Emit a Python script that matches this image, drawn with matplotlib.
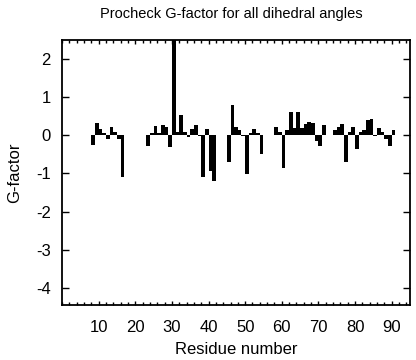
import matplotlib
matplotlib.use("Agg")
import matplotlib.pyplot as plt
from matplotlib.ticker import MultipleLocator

plt.rcParams['font.family'] = ['Liberation Sans', 'DejaVu Sans']
plt.rcParams['axes.unicode_minus'] = False

residues = [9, 10, 11, 12, 13, 14, 15, 16, 17,
            24, 25, 26, 27, 28, 29, 30, 31, 32, 33, 34, 35, 36, 37, 38, 39, 40, 41, 42,
            46, 47, 48, 49, 50, 51, 52, 53, 54, 55,
            59, 60, 61, 62, 63, 64, 65, 66, 67, 68, 69, 70, 71, 72,
            75, 76, 77, 78, 79, 80, 81, 82, 83, 84, 85, 86, 87, 88, 89, 90, 91]
gfactor = [-0.25, 0.33, 0.17, 0.07, -0.10, 0.21, 0.10, -0.10, -1.08,
           -0.29, 0.07, 0.25, 0.05, 0.28, 0.21, -0.30, 3.0, 0.10, 0.52, 0.10, -0.04, 0.17, 0.26, -0.02, -1.10, 0.17, -0.93, -1.20,
           -0.70, 0.79, 0.22, 0.15, -0.03, -1.02, 0.07, 0.17, 0.06, -0.50,
           0.22, 0.08, -0.87, 0.15, 0.60, 0.20, 0.60, 0.20, 0.31, 0.35, 0.33, -0.15, -0.27, 0.26,
           0.15, 0.23, 0.30, -0.70, 0.10, 0.22, -0.37, 0.10, 0.15, 0.39, 0.43, -0.03, 0.20, 0.08, -0.10, -0.27, 0.15]

fig = plt.figure(figsize=(4.16, 3.6), dpi=100)
ax = fig.add_axes([62/416, 1-305/360, (410-62)/416, (305-40)/360])

ax.bar(residues, gfactor, width=-1.0, align='edge', color='black', linewidth=0)

ax.set_xlim(0, 95)
ax.set_ylim(-4.45, 2.5)
ax.xaxis.set_minor_locator(MultipleLocator(2))
ax.yaxis.set_major_locator(MultipleLocator(1))
ax.set_xticks(range(10, 91, 10))
ax.tick_params(axis='both', which='both', direction='in', top=True, right=True, labelsize=12)
ax.tick_params(axis='y', which='major', length=5, width=1, pad=8)
ax.tick_params(axis='x', which='minor', length=2.5, width=1)
ax.tick_params(axis='x', which='major', length=3, width=1, pad=11)
for s in ax.spines.values():
    s.set_linewidth(1.3)

ax.set_xlabel('Residue number', fontsize=12, labelpad=5)
ax.set_ylabel('G-factor', fontsize=12, labelpad=10)
fig.text(0.555, 1-14/360, 'Procheck G-factor for all dihedral angles', ha='center', va='center', fontsize=10.5)

fig.savefig('out.png', dpi=100)
